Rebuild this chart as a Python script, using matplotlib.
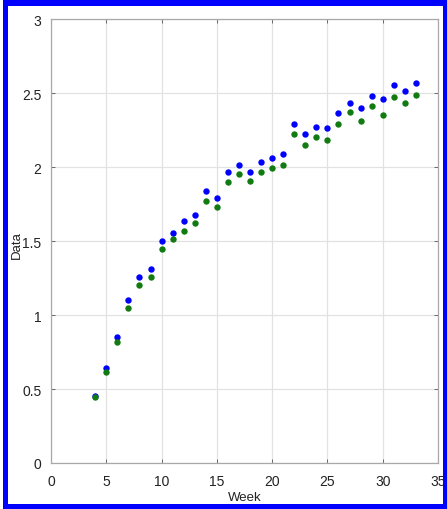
import matplotlib
matplotlib.use("Agg")
import matplotlib.pyplot as plt
from matplotlib.patches import Rectangle

weeks = list(range(4, 34))
series_blue = [0.455, 0.642, 0.851, 1.098, 1.26, 1.313, 1.498, 1.552, 1.638, 1.674,
               1.84, 1.788, 1.964, 2.014, 1.966, 2.036, 2.063, 2.088, 2.293, 2.221,
               2.273, 2.266, 2.363, 2.432, 2.397, 2.478, 2.457, 2.557, 2.511, 2.566]
series_green = [0.444, 0.617, 0.816, 1.047, 1.205, 1.259, 1.444, 1.511, 1.566, 1.62,
                1.768, 1.728, 1.901, 1.952, 1.903, 1.964, 1.991, 2.016, 2.221, 2.149,
                2.201, 2.185, 2.293, 2.37, 2.309, 2.415, 2.354, 2.476, 2.432, 2.486]
xticks = [0, 5, 10, 15, 20, 25, 30, 35]
yticks = [0, 0.5, 1, 1.5, 2, 2.5, 3]
ytick_labels = ["0", "0.5", "1", "1.5", "2", "2.5", "3"]

W, H = 447, 510
fig = plt.figure(figsize=(W / 100, H / 100), dpi=100)
fig.patch.set_facecolor("white")

font = ["Liberation Sans Narrow", "Liberation Sans", "DejaVu Sans"]

ax = fig.add_axes([51 / W, (H - 464) / H, 387 / W, 444 / H])
ax.plot(weeks, series_blue, linestyle="none", marker="o", markersize=4.6,
        color="#0000ff", markeredgewidth=0)
ax.plot(weeks, series_green, linestyle="none", marker="o", markersize=4.6,
        color="#117a11", markeredgewidth=0)

ax.set_xlim(0, 35)
ax.set_ylim(0, 3)
ax.set_xticks(xticks)
ax.set_yticks(yticks)
ax.set_xticklabels([str(t) for t in xticks], family=font, fontsize=10)
ax.set_yticklabels(ytick_labels, family=font, fontsize=10)
ax.grid(True, color="#e2e2e2", linewidth=0.9)
ax.set_axisbelow(True)
ax.tick_params(direction="in", length=3, width=0.6, color="#555555",
               top=True, right=True, labelcolor="#222222")
ax.tick_params(axis="x", pad=8)
ax.tick_params(axis="y", pad=7)
for s in ax.spines.values():
    s.set_color("#a8a8a8")
    s.set_linewidth(0.9)

fig.text(245 / W, 1 - 498 / H, "Week", family=font, fontsize=9.5, color="#222222",
         ha="center", va="center")
fig.text(17 / W, 1 - 245 / H, "Data", family=font, fontsize=9.5, color="#222222",
         ha="center", va="center", rotation=90)

# blue border around figure
blue = "#0000ff"
for (x0, y0, w, h) in [(3, 0, 5, 510), (443, 0, 4, 510), (3, 0, 444, 7), (3, 505, 444, 5)]:
    fig.patches.append(Rectangle((x0 / W, 1 - (y0 + h) / H), w / W, h / H,
                                 transform=fig.transFigure, facecolor=blue,
                                 edgecolor="none", zorder=10))

fig.savefig("out.png", dpi=100)
